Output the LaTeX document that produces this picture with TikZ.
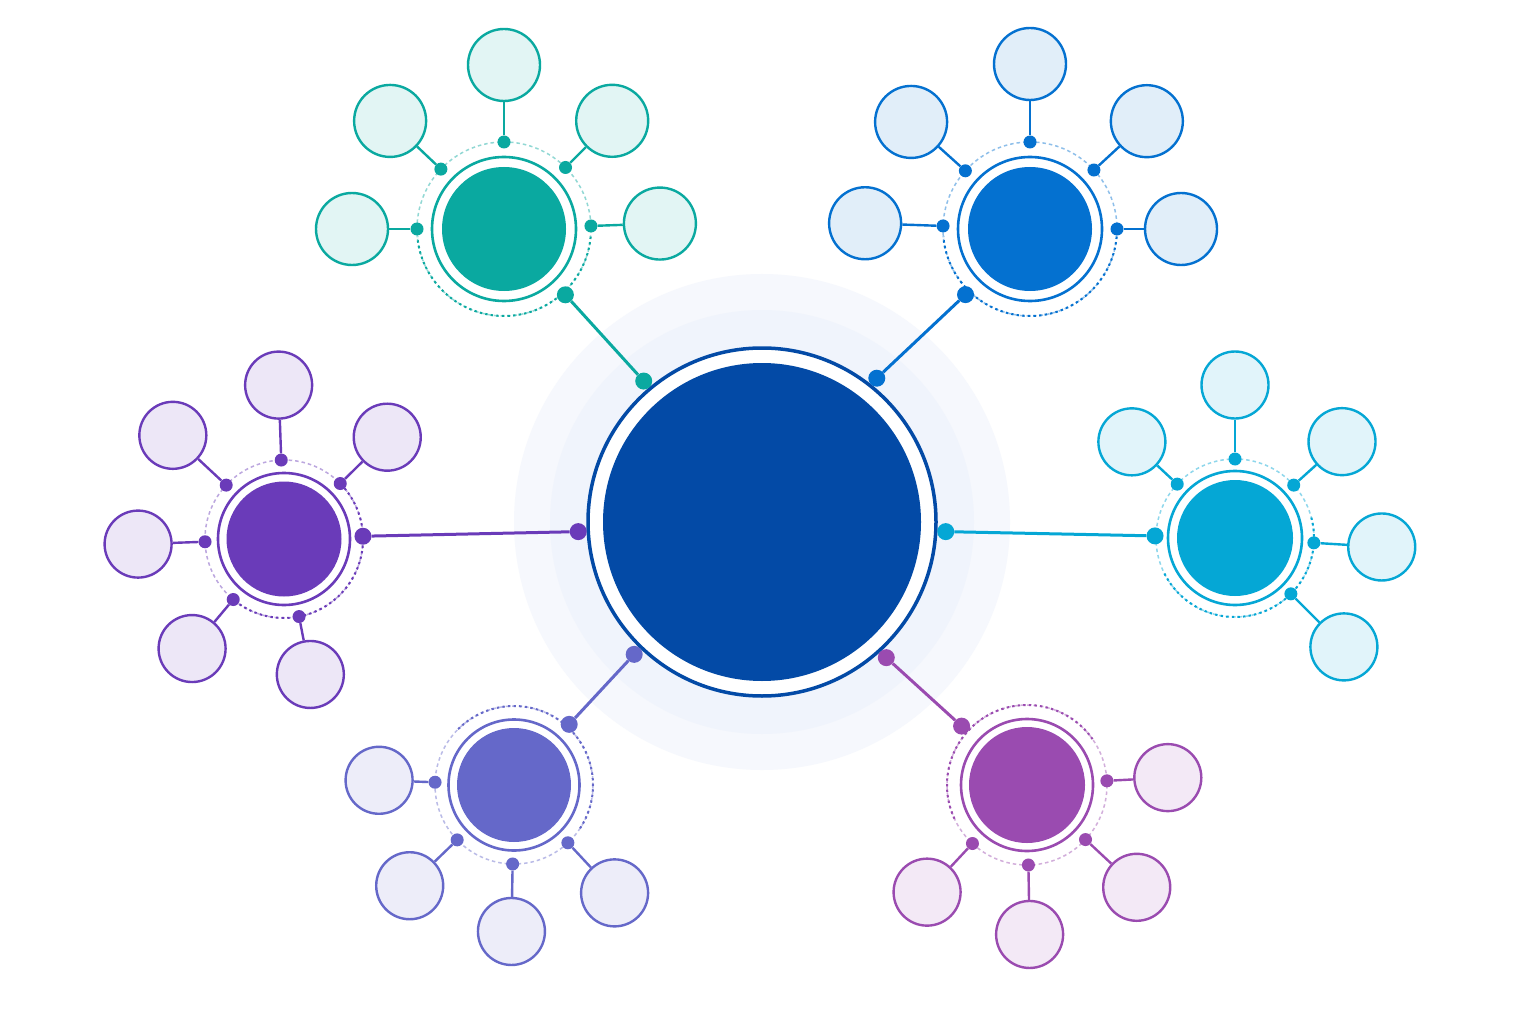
\documentclass[tikz,border=0pt]{standalone}
\usepackage{tikz}
\usetikzlibrary{positioning}

\definecolor{corehub}{HTML}{034AA6}
\definecolor{tealhub}{HTML}{0AA9A0}
\definecolor{bluehub}{HTML}{0471D0}
\definecolor{purplehub}{HTML}{6A3BB9}
\definecolor{cyanhub}{HTML}{05A7D5}
\definecolor{indigohub}{HTML}{6568C9}
\definecolor{magentahub}{HTML}{9A4BB0}
\definecolor{glowA}{HTML}{F6F8FD}
\definecolor{glowB}{HTML}{F0F4FC}

\begin{document}
\begin{tikzpicture}[x=1pt,y=-1pt,
      hubcore/.style ={circle,inner sep=0pt},
      hubring/.style ={circle,inner sep=0pt,line width=2.6pt,fill=white},
      satnode/.style ={circle,inner sep=0pt,line width=2.4pt},
      pin/.style     ={circle,inner sep=0pt,minimum size=13pt},
      bigpin/.style  ={circle,inner sep=0pt,minimum size=17pt},
      spoke/.style   ={line width=2.4pt},
      link/.style    ={line width=3pt},
      dashring/.style={line width=1.5pt,dash pattern=on 3.5pt off 3pt},
      dotring/.style ={line width=2pt,dash pattern=on 2.4pt off 3.2pt}]
      % Canvas
      \fill[white] (0,0) rectangle (1536,1024);
      \useasboundingbox (0,0) rectangle (1536,1024);

      % Glow round the core
      \fill[glowA] (762,522) circle[radius=248];
      \fill[glowB] (762,522) circle[radius=212];

      % Macro: hub with ring, core and dotted orbit
      \newcommand{\hub}[7]{% name, position, colour, core, ring, orbit, dark side
        \draw[dashring,draw=#3!45] #2 circle[radius=#6];
        \draw[dotring,draw=#3] #2 ++(#7-85:#6) arc[start angle=#7-85,end angle=#7+85,radius=#6];
        \node[hubring,draw=#3,minimum size=#5pt] (#1) at #2 {};
        \node[hubcore,fill=#3,minimum size=#4pt] (#1core) at #2 {};
      }
      % Macro: satellite with pin on the orbit
      \newcommand{\sat}[7]{% hub, tag, angle, dist, colour, orbit, size
        \path (#1) ++(#3:#6) node[pin,fill=#5] (#1#2pin) {};
        \path (#1) ++(#3:#4) node[satnode,draw=#5,fill=#5!12,minimum size=#7pt] (#1#2) {};
        \draw[spoke,#5] (#1#2pin) -- (#1#2);
      }

      % Central hub
      \node[circle,inner sep=0pt,draw=corehub,line width=3.5pt,fill=white,minimum size=348pt] (corering) at (762,522) {};
      \node[hubcore,fill=corehub,minimum size=318pt] (core) at (762,522) {};

      % Teal (top left)
      \hub{teal}{(504,229)}{tealhub}{124}{144}{87}{90}
      \foreach \a/\d [count=\k] in {-90/164,-136.5/157,-45/153,180/152,-2/156}
        {\sat{teal}{\k}{\a}{\d}{tealhub}{87}{72}}

      % Blue (top right)
      \hub{blue}{(1030,229)}{bluehub}{124}{144}{87}{90}
      \foreach \a/\d [count=\k] in {-90/165,-138/160,-42.7/159,182/165,0/151}
        {\sat{blue}{\k}{\a}{\d}{bluehub}{87}{72}}

      % Purple (left)
      \hub{purple}{(284,539)}{purplehub}{115}{132}{79}{45}
      \foreach \a/\d [count=\k] in {-92/154,-137/152,-44.6/145,178/146,130/143,79/138}
        {\sat{purple}{\k}{\a}{\d}{purplehub}{79}{67}}

      % Cyan (right)
      \hub{cyan}{(1235,538)}{cyanhub}{116}{134}{79}{70}
      \foreach \a/\d [count=\k] in {-90/153,-137/141,-42/144,3.5/147,45/154}
        {\sat{cyan}{\k}{\a}{\d}{cyanhub}{79}{67}}

      % Indigo (bottom left)
      \hub{indigo}{(514,785)}{indigohub}{114}{131}{79}{-50}
      \foreach \a/\d [count=\k] in {182/135,136/145,91/146.5,47/147.5}
        {\sat{indigo}{\k}{\a}{\d}{indigohub}{79}{67}}

      % Magenta (bottom right)
      \hub{magenta}{(1027,785)}{magentahub}{116}{132}{80}{-120}
      \foreach \a/\d [count=\k] in {-3/141,133/146.5,89/149.5,43/150}
        {\sat{magenta}{\k}{\a}{\d}{magentahub}{80}{67}}

      % Links to the core
      \foreach \h/\ca/\ha/\hr in {teal/-130/47/90,blue/-51.4/134.5/92,purple/177/-2/79,
                                  cyan/3/181.5/80,indigo/134/-47.7/82,magenta/47.5/-138/88}{
        \path (core) ++(\ca:184) node[bigpin,fill=\h hub] (core\h) {};
        \path (\h) ++(\ha:\hr) node[bigpin,fill=\h hub] (\h link) {};
        \draw[link,\h hub] (\h link) -- (core\h);
      }
  \end{tikzpicture}
\end{document}
